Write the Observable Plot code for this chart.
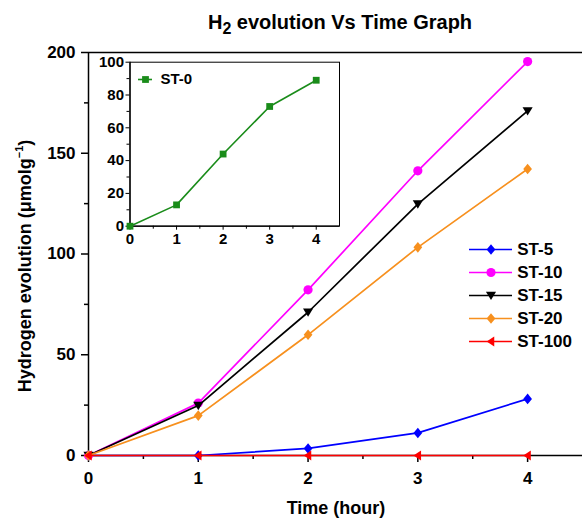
<!DOCTYPE html>
<html>
<head>
<meta charset="utf-8">
<script src="https://cdn.jsdelivr.net/npm/d3@7"></script>
<script src="https://cdn.jsdelivr.net/npm/@observablehq/plot@0.6"></script>
<style>
  html, body { margin: 0; padding: 0; background: #fff; }
  #wrap { position: relative; width: 582px; height: 518px; overflow: hidden; font-family: "Liberation Sans", Arial, sans-serif; font-weight: bold; color: #000; }
  .abs { position: absolute; }
  .title { left: 340px; top: 12px; transform: translateX(-50%); font-size: 20px; line-height: 1; white-space: nowrap; }
  .title sub { font-size: 0.8em; vertical-align: -0.3em; line-height: 0; }
  .xlabel { left: 336px; top: 499px; transform: translateX(-50%); font-size: 18px; line-height: 1; white-space: nowrap; }
  .ylabel { left: 25px; top: 266px; transform: translate(-50%, -50%) rotate(-90deg); font-size: 18px; line-height: 1; white-space: nowrap; }
  .ylabel sup { font-size: 0.6em; vertical-align: 0.7em; line-height: 0; }
</style>
</head>
<body>
<div id="wrap"></div>
<script>
// ---- data ----
const times = [0, 1, 2, 3, 4];
const seriesNames = ["ST-5", "ST-10", "ST-15", "ST-20", "ST-100"];
const st5   = [0, 0, 3.5, 11.2, 28.1];
const st10  = [0, 26, 82.2, 141.3, 195.5];
const st15  = [0, 24.8, 71.1, 124.8, 171];
const st20  = [0, 19.8, 59.9, 103.3, 142.2];
const st100 = [0, 0, 0, 0, 0];
const seriesValues = [st5, st10, st15, st20, st100];
const seriesColors = ["#0000ff", "#ff00ff", "#000000", "#f7901e", "#ff0000"];

const insetName = "ST-0";
const st0 = [0, 13, 44, 73, 89];
const insetColor = "#1a8c1a";

const xTicks = [0, 1, 2, 3, 4];
const xMinor = [0.5, 1.5, 2.5, 3.5];
const yTicks = [0, 50, 100, 150, 200];
const yMinor = [25, 75, 125, 175];
const insetYTicks = [0, 20, 40, 60, 80, 100];
const insetYMinor = [10, 30, 50, 70, 90];

// ---- custom symbols ----
const R = s => Math.sqrt(s / Math.PI);
const diamond = { draw(c, s) { const r = R(s); c.moveTo(0, -r * 1.15); c.lineTo(r * 0.95, 0); c.lineTo(0, r * 1.15); c.lineTo(-r * 0.95, 0); c.closePath(); } };
const downTri = { draw(c, s) { const r = R(s); c.moveTo(-r * 1.1, -r * 0.8); c.lineTo(r * 1.1, -r * 0.8); c.lineTo(0, r * 1.0); c.closePath(); } };
const leftTri = { draw(c, s) { const r = R(s); c.moveTo(-r * 0.95, 0); c.lineTo(r * 0.7, -r * 1.1); c.lineTo(r * 0.7, r * 1.1); c.closePath(); } };
const circle = { draw(c, s) { const r = R(s); c.moveTo(r, 0); c.arc(0, 0, r, 0, 2 * Math.PI); } };
const square = { draw(c, s) { const r = R(s) * 0.85; c.rect(-r, -r, 2 * r, 2 * r); } };
const seriesSymbols = [diamond, circle, downTri, diamond, leftTri];

const FONT = "'Liberation Sans', Arial, sans-serif";
const wrap = document.getElementById("wrap");

function place(el, left, top) {
  el.style.position = "absolute";
  el.style.left = left + "px";
  el.style.top = top + "px";
  wrap.appendChild(el);
}

// ---- main plot ----
const seriesMarks = seriesNames.flatMap((name, i) => {
  const rows = times.map((t, j) => ({ t, v: seriesValues[i][j] }));
  return [
    Plot.line(rows, { x: "t", y: "v", stroke: seriesColors[i], strokeWidth: 1.7 }),
    Plot.dot(rows, { x: "t", y: "v", fill: seriesColors[i], stroke: "none", symbol: seriesSymbols[i], r: 4.6 })
  ];
});

const main = Plot.plot({
  width: 582, height: 518,
  marginLeft: 88, marginRight: 0, marginTop: 52, marginBottom: 63,
  x: { domain: [0, 4.5] },
  y: { domain: [0, 200] },
  style: { fontFamily: FONT, fontWeight: "bold", background: "transparent", color: "#000", overflow: "visible" },
  marks: [
    Plot.ruleY([200], { stroke: "#000", strokeWidth: 1.5 }),
    Plot.axisX({ ticks: xTicks, tickSize: 7, tickPadding: 9, fontSize: 17, label: null, tickFormat: d => d, strokeWidth: 1.5 }),
    Plot.axisX({ ticks: xMinor, tickSize: 4, text: null, label: null, strokeWidth: 1.5 }),
    Plot.axisY({ ticks: yTicks, tickSize: 7, tickPadding: 6, fontSize: 17, label: null, tickFormat: d => d, strokeWidth: 1.5 }),
    Plot.axisY({ ticks: yMinor, tickSize: 4, text: null, label: null, strokeWidth: 1.5 }),
    Plot.ruleX([0], { stroke: "#000", strokeWidth: 1.5 }),
    Plot.ruleY([0], { stroke: "#000", strokeWidth: 1.5 }),
    ...seriesMarks
  ]
});
place(main, 0, 0);

// ---- legend builder ----
function makeLegend(names, colors, symbols, o) {
  const data = names.map((n, i) => ({ n, c: colors[i], s: symbols[i] }));
  return Plot.plot({
    width: o.width, height: o.height,
    marginLeft: o.ml, marginRight: o.mr, marginTop: o.mt, marginBottom: o.mb,
    x: { domain: [0, 1], axis: null },
    y: { type: "point", domain: names, padding: 0, axis: null },
    style: { fontFamily: FONT, fontWeight: "bold", background: "transparent", color: "#000", overflow: "visible" },
    marks: [
      ...data.map(d => Plot.ruleY([d], { y: "n", x1: 0, x2: 1, stroke: d.c, strokeWidth: o.sw })),
      ...data.map(d => Plot.dot([d], { x: () => 0.5, y: "n", symbol: d.s, fill: d.c, stroke: "none", r: o.r })),
      Plot.text(data, { x: () => 1, y: "n", text: "n", textAnchor: "start", dx: o.dx, fontSize: o.fs, fontWeight: "bold", fill: "#000" })
    ]
  });
}

const legend = makeLegend(seriesNames, seriesColors, seriesSymbols,
  { width: 113, height: 115, ml: 0, mr: 70, mt: 11.3, mb: 11.3, sw: 1.7, r: 4.6, dx: 4.7, fs: 17 });
place(legend, 469, 237);

// ---- inset ----
const insetRows = times.map((t, j) => ({ t, v: st0[j] }));
const inset = Plot.plot({
  width: 252, height: 210,
  marginLeft: 39.5, marginRight: 3, marginTop: 21.7, marginBottom: 24.3,
  x: { domain: [0, 4.5] },
  y: { domain: [0, 100] },
  style: { fontFamily: FONT, fontWeight: "bold", background: "transparent", color: "#000", overflow: "visible" },
  marks: [
    Plot.frame({ fill: "#fff", stroke: "#000", strokeWidth: 1 }),
    Plot.axisX({ ticks: xTicks, tickSize: 4, tickPadding: 3, fontSize: 15, label: null, tickFormat: d => d }),
    Plot.axisX({ ticks: xMinor, tickSize: 3, text: null, label: null }),
    Plot.axisY({ ticks: insetYTicks, tickSize: 4, tickPadding: 2, fontSize: 15, label: null, tickFormat: d => d }),
    Plot.axisY({ ticks: insetYMinor, tickSize: 3, text: null, label: null }),
    Plot.ruleX([0], { stroke: "#000", strokeWidth: 1.3 }),
    Plot.ruleY([0], { stroke: "#000", strokeWidth: 1.3 }),
    Plot.line(insetRows, { x: "t", y: "v", stroke: insetColor, strokeWidth: 1.6 }),
    Plot.dot(insetRows, { x: "t", y: "v", fill: insetColor, stroke: "none", symbol: square, r: 4 })
  ]
});
place(inset, 90, 40);

const insetLegend = makeLegend([insetName], [insetColor], [square],
  { width: 60, height: 22, ml: 2, mr: 44, mt: 11, mb: 11, sw: 1.6, r: 4, dx: 8, fs: 15 });
place(insetLegend, 136, 68);

// ---- titles ----
const title = document.createElement("div");
title.className = "abs title";
title.innerHTML = "H<sub>2</sub> evolution Vs Time Graph";
wrap.appendChild(title);

const xl = document.createElement("div");
xl.className = "abs xlabel";
xl.textContent = "Time (hour)";
wrap.appendChild(xl);

const yl = document.createElement("div");
yl.className = "abs ylabel";
yl.innerHTML = "Hydrogen evolution (\u03bcmolg<sup>\u22121</sup>)";
wrap.appendChild(yl);
</script>
</body>
</html>
